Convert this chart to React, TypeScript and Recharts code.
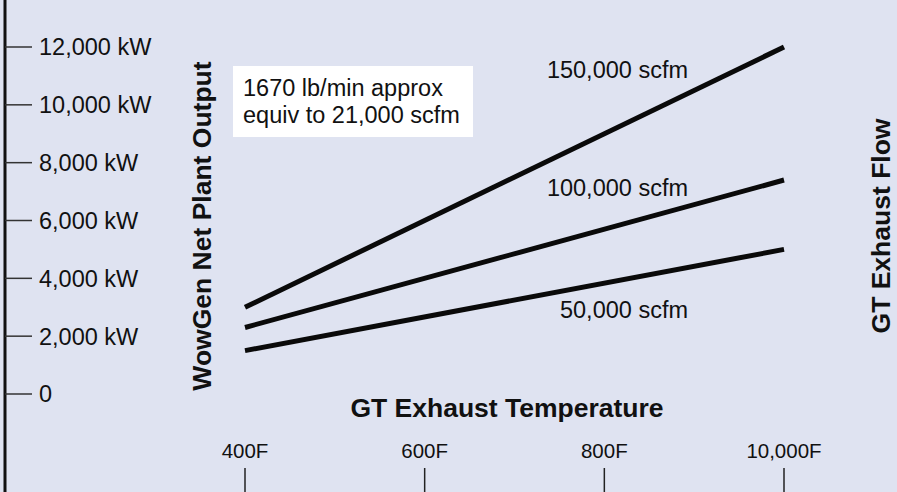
import React from 'react';
import { LineChart, Line, XAxis, YAxis } from 'recharts';

const temperatures = [400, 1000];
const flow150k = [3000, 12000];
const flow100k = [2300, 7400];
const flow50k = [1500, 5000];

const xTicks = [400, 600, 800, 1000];
const xTickLabels = ['400F', '600F', '800F', '10,000F'];
const yTicks = [0, 2000, 4000, 6000, 8000, 10000, 12000];
const yTickLabels = ['0', '2,000 kW', '4,000 kW', '6,000 kW', '8,000 kW', '10,000 kW', '12,000 kW'];

const seriesNames = ['150,000 scfm', '100,000 scfm', '50,000 scfm'];
const noteLines = ['1670 lb/min approx', 'equiv to 21,000 scfm'];
const yTitle = 'WowGen Net Plant Output';
const xTitle = 'GT Exhaust Temperature';
const rightTitle = 'GT Exhaust Flow';

const data = temperatures.map((t, i) => ({
  t,
  f150: flow150k[i],
  f100: flow100k[i],
  f50: flow50k[i],
}));

const FONT = '"Liberation Sans", Arial, Helvetica, sans-serif';
const BG = '#dfe3f1';
const W = 897;
const H = 492;

const Annotations = () => (
  <g fontFamily={FONT}>
    <text x={211} y={226} transform="rotate(-90 211 226)" textAnchor="middle" fontSize={26.5} fontWeight="bold" fill="#111">
      {yTitle}
    </text>
    <text x={890} y={226} transform="rotate(-90 890 226)" textAnchor="middle" fontSize={26.5} fontWeight="bold" fill="#111">
      {rightTitle}
    </text>
    <text x={507} y={417} textAnchor="middle" fontSize={26.5} fontWeight="bold" fill="#111">
      {xTitle}
    </text>
    <rect x={233} y={66} width={240} height={71} fill="#ffffff" />
    <text x={243} y={96} fontSize={23.5} fill="#111">{noteLines[0]}</text>
    <text x={243} y={123} fontSize={23.5} fill="#111">{noteLines[1]}</text>
    <text x={688} y={78} textAnchor="end" fontSize={23.5} fill="#111">{seriesNames[0]}</text>
    <text x={688} y={196} textAnchor="end" fontSize={23.5} fill="#111">{seriesNames[1]}</text>
    <text x={688} y={318} textAnchor="end" fontSize={23.5} fill="#111">{seriesNames[2]}</text>
  </g>
);

export default function App() {
  return (
    <div style={{ width: W, height: H, background: BG }}>
      <style>{'body{margin:0}'}</style>
      <LineChart width={W} height={H} data={data} margin={{ top: 0, right: 0, bottom: 0, left: 5 }}>
        <XAxis
          dataKey="t"
          type="number"
          domain={[400, 1000]}
          ticks={xTicks}
          tickFormatter={(v: number) => xTickLabels[xTicks.indexOf(v)]}
          padding={{ left: 240, right: 113 }}
          orientation="bottom"
          mirror
          axisLine={false}
          tickSize={24}
          tickMargin={10}
          tickLine={{ stroke: '#222', strokeWidth: 1.5 }}
          tick={{ fill: '#111', fontSize: 20.5, fontFamily: FONT }}
          interval={0}
        />
        <YAxis
          type="number"
          domain={[0, 12000]}
          ticks={yTicks}
          tickFormatter={(v: number) => yTickLabels[yTicks.indexOf(v)]}
          padding={{ top: 47, bottom: 98 }}
          orientation="left"
          mirror
          width={220}
          axisLine={{ stroke: '#111', strokeWidth: 3 }}
          tickSize={27}
          tickMargin={7}
          tickLine={{ stroke: '#333', strokeWidth: 1.5 }}
          tick={{ fill: '#111', fontSize: 23.5, fontFamily: FONT }}
          interval={0}
        />
        <Line type="linear" dataKey="f150" stroke="#0a0a0a" strokeWidth={5} dot={false} isAnimationActive={false} />
        <Line type="linear" dataKey="f100" stroke="#0a0a0a" strokeWidth={5} dot={false} isAnimationActive={false} />
        <Line type="linear" dataKey="f50" stroke="#0a0a0a" strokeWidth={5} dot={false} isAnimationActive={false} />
        <Annotations />
      </LineChart>
    </div>
  );
}
